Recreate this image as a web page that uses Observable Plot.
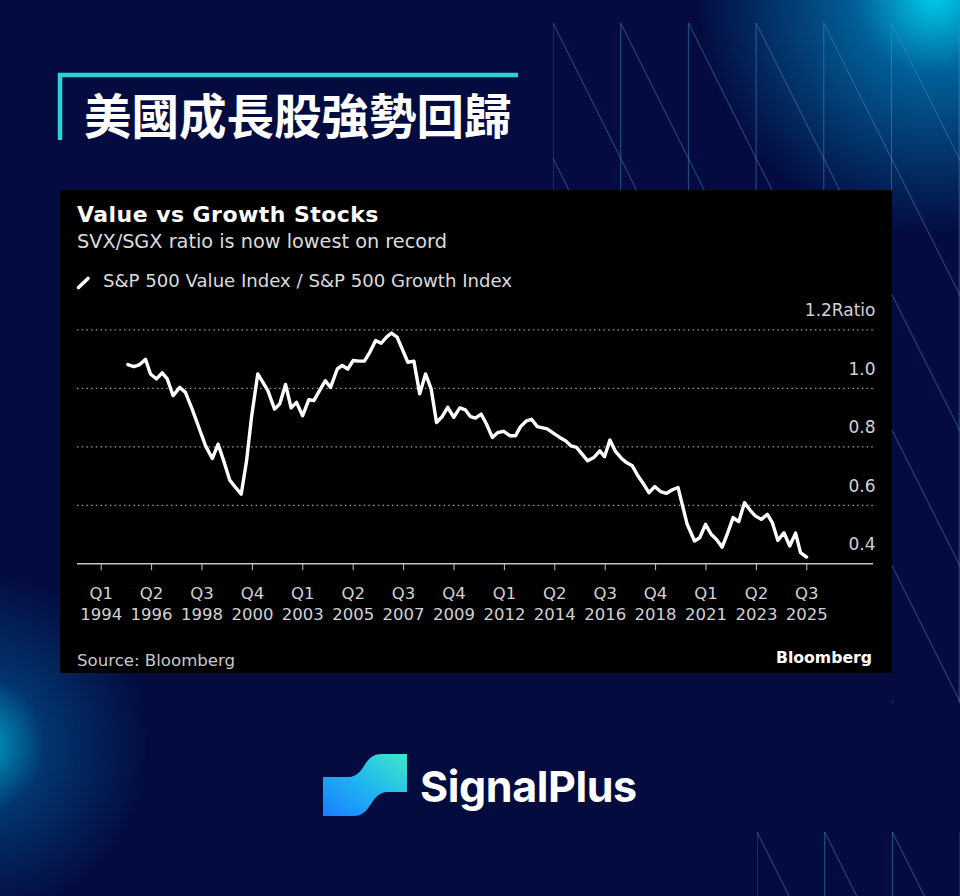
<!DOCTYPE html>
<html>
<head>
<meta charset="utf-8">
<script src="https://cdn.jsdelivr.net/npm/d3@7"></script>
<script src="https://cdn.jsdelivr.net/npm/@observablehq/plot@0.6"></script>
<style>
  html, body { margin: 0; padding: 0; }
  body { width: 960px; height: 896px; overflow: hidden; position: relative; background: #030b3f; }
  #bg { position: absolute; left: 0; top: 0; width: 960px; height: 896px;
    background:
      radial-gradient(circle at 935px -5px, rgba(0,205,235,1) 0px, rgba(0,150,210,0.6) 80px, rgba(3,11,63,0) 240px),
      radial-gradient(circle at -25px 745px, rgba(0,190,225,0.9) 0px, rgba(0,130,200,0.35) 70px, rgba(3,11,63,0) 175px),
      #030b3f; }
  #overlay, #deco { position: absolute; left: 0; top: 0; }
  #chart { position: absolute; left: 60px; top: 290px; }
</style>
</head>
<body>
<div id="bg"></div>
<svg id="deco" width="960" height="896"></svg>
<svg id="overlay" width="960" height="896"></svg>
<div id="chart"></div>
<script>
// ---- data ----
const years = [
  1995.19, 1995.46, 1995.72, 1995.98, 1996.20, 1996.47, 1996.72, 1996.95,
  1997.21, 1997.51, 1997.76, 1998.06, 1998.36, 1998.66, 1998.96, 1999.22,
  1999.47, 1999.74, 2000.00, 2000.25, 2000.49, 2000.71, 2000.99, 2001.44,
  2001.74, 2001.97, 2002.23, 2002.48, 2002.72, 2002.99, 2003.27, 2003.49,
  2003.76, 2004.01, 2004.24, 2004.54, 2004.76, 2005.01, 2005.25, 2005.50,
  2005.75, 2005.99, 2006.25, 2006.50, 2006.74, 2006.96, 2007.21, 2007.69,
  2007.96, 2008.22, 2008.48, 2008.73, 2008.97, 2009.22, 2009.47, 2009.74,
  2010.01, 2010.26, 2010.49, 2010.71, 2010.96, 2011.20, 2011.46, 2011.71,
  2011.97, 2012.24, 2012.50, 2012.72, 2012.99, 2013.21, 2013.47, 2013.91,
  2014.20, 2014.47, 2014.73, 2014.98, 2015.22, 2015.47, 2015.72, 2015.99,
  2016.26, 2016.47, 2016.71, 2016.96, 2017.22, 2017.45, 2017.71, 2017.96,
  2018.22, 2018.45, 2018.71, 2018.97, 2019.24, 2019.50, 2019.75, 2020.16,
  2020.49, 2020.72, 2020.98, 2021.23, 2021.47, 2021.72, 2021.97, 2022.21,
  2022.46, 2022.72, 2022.99, 2023.21, 2023.47, 2023.74, 2023.96, 2024.21,
  2024.48, 2024.74, 2025.00, 2025.22, 2025.49
];
const ratio = [
  1.081, 1.074, 1.081, 1.099, 1.049, 1.032, 1.053, 1.032,
  0.975, 1.003, 0.986, 0.929, 0.866, 0.803, 0.760, 0.809,
  0.752, 0.686, 0.661, 0.638, 0.752, 0.901, 1.049, 0.992,
  0.929, 0.946, 1.013, 0.933, 0.952, 0.906, 0.961, 0.958,
  0.994, 1.026, 1.003, 1.066, 1.078, 1.066, 1.095, 1.093,
  1.093, 1.123, 1.163, 1.154, 1.175, 1.189, 1.175, 1.089,
  1.093, 0.981, 1.049, 0.998, 0.883, 0.903, 0.935, 0.901,
  0.933, 0.926, 0.903, 0.898, 0.912, 0.878, 0.832, 0.849,
  0.853, 0.838, 0.838, 0.869, 0.889, 0.894, 0.869, 0.861,
  0.846, 0.832, 0.821, 0.803, 0.798, 0.775, 0.752, 0.763,
  0.786, 0.766, 0.823, 0.784, 0.761, 0.746, 0.735, 0.701,
  0.672, 0.643, 0.664, 0.647, 0.641, 0.653, 0.661, 0.535,
  0.478, 0.489, 0.535, 0.501, 0.483, 0.457, 0.506, 0.558,
  0.544, 0.609, 0.581, 0.563, 0.552, 0.569, 0.541, 0.480,
  0.506, 0.461, 0.505, 0.438, 0.423
];
const tickPositions = [1994, 1996.25, 1998.5, 2000.75, 2003, 2005.25, 2007.5, 2009.75,
  2012, 2014.25, 2016.5, 2018.75, 2021, 2023.25, 2025.5];
const tickQuarters = ["Q1","Q2","Q3","Q4","Q1","Q2","Q3","Q4","Q1","Q2","Q3","Q4","Q1","Q2","Q3"];
const tickYears = ["1994","1996","1998","2000","2003","2005","2007","2009","2012","2014","2016","2018","2021","2023","2025"];
const yTicks = [0.4, 0.6, 0.8, 1.0, 1.2];
const yUnit = "Ratio";

const pageTitle = "美國成長股強勢回歸";
const chartTitle = "Value vs Growth Stocks";
const chartSubtitle = "SVX/SGX ratio is now lowest on record";
const legendLabel = "S&P 500 Value Index / S&P 500 Growth Index";
const sourceText = "Source: Bloomberg";
const brandText = "Bloomberg";
const logoText = "SignalPlus";

const rows = years.map((t, i) => ({t, v: ratio[i]}));

// ---- decorative background lines ----
const NS = "http://www.w3.org/2000/svg";
function el(parent, name, attrs, text) {
  const e = document.createElementNS(NS, name);
  for (const k in attrs) e.setAttribute(k, attrs[k]);
  if (text != null) e.textContent = text;
  parent.appendChild(e);
  return e;
}
const deco = document.getElementById("deco");
const defs = el(deco, "defs", {});
const c1 = el(defs, "clipPath", {id: "clipA"});
el(c1, "rect", {x: 553, y: 23, width: 407, height: 168});
el(c1, "rect", {x: 892, y: 23, width: 68, height: 680});
const c2 = el(defs, "clipPath", {id: "clipB"});
el(c2, "rect", {x: 757, y: 832, width: 203, height: 64});
function pattern(clipId, x0, y0, h) {
  const g = el(deco, "g", {"clip-path": `url(#${clipId})`, stroke: "rgba(70,140,200,0.55)", "stroke-width": 1, fill: "none"});
  const step = 67.7;
  for (let k = 0; k < 8; k++) {
    const x = x0 + step * k;
    el(g, "line", {x1: x, y1: y0, x2: x, y2: y0 + h});
  }
  for (let k = -12; k < 8; k++) {
    const x = x0 + step * k;
    el(g, "line", {x1: x, y1: y0, x2: x + h / 2, y2: y0 + h});
  }
}
pattern("clipA", 553, 23, 680);
pattern("clipB", 757, 832, 200);

// ---- overlay: titles, box, legend, logo ----
const ov = document.getElementById("overlay");
const odefs = el(ov, "defs", {});
const lg = el(odefs, "linearGradient", {id: "logoGrad", x1: "0", y1: "1", x2: "1", y2: "0"});
el(lg, "stop", {offset: "0", "stop-color": "#1a7dff"});
el(lg, "stop", {offset: "0.5", "stop-color": "#1fb6f0"});
el(lg, "stop", {offset: "1", "stop-color": "#3fe8c8"});

// cyan frame
el(ov, "path", {d: "M60,140 L60,75 L518,75", stroke: "#27d3d6", "stroke-width": 4.5, fill: "none"});
el(ov, "text", {x: 84, y: 134, fill: "#ffffff", "font-family": "Noto Sans CJK TC", "font-weight": 700, "font-size": 47.5}, pageTitle);

// chart box
el(ov, "rect", {x: 60, y: 190, width: 832, height: 483, fill: "#000000"});
el(ov, "text", {x: 77, y: 222, fill: "#ffffff", "font-family": "DejaVu Sans", "font-weight": 700, "font-size": 22, "letter-spacing": 0.45}, chartTitle);
el(ov, "text", {x: 77, y: 248, fill: "#dcdcdc", "font-family": "DejaVu Sans", "font-size": 19.3}, chartSubtitle);
el(ov, "line", {x1: 78.5, y1: 287.5, x2: 88, y2: 278.5, stroke: "#ffffff", "stroke-width": 3.6, "stroke-linecap": "round"});
el(ov, "text", {x: 103, y: 287, fill: "#dcdcdc", "font-family": "DejaVu Sans", "font-size": 18.1}, legendLabel);
el(ov, "text", {x: 77, y: 666, fill: "#c8c8c8", "font-family": "DejaVu Sans", "font-size": 16.6}, sourceText);
el(ov, "text", {x: 872, y: 663, fill: "#ffffff", "font-family": "DejaVu Sans", "font-weight": 700, "font-size": 15.7, "text-anchor": "end"}, brandText);

// SignalPlus logo
el(ov, "path", {d: "M323,777 L348,777 C366,777 362,754 382,754 L407,754 L407,792 L388,792 C370,792 372,816 354,816 L323,816 Z", fill: "url(#logoGrad)"});
el(ov, "text", {x: 420, y: 802, fill: "#ffffff", "font-family": "Inter", "font-weight": 700, "font-size": 43, "letter-spacing": -0.4}, logoText);

// ---- the chart ----
const W = 832, H = 340;
const chart = Plot.plot({
  width: W,
  height: H,
  marginLeft: 17,
  marginRight: 19,
  marginTop: 39.3,
  marginBottom: 66.7,
  style: {background: "transparent", color: "#d2d2d2", fontFamily: "DejaVu Sans", overflow: "visible"},
  x: {type: "linear", domain: [1992.942, 2028.478]},
  y: {type: "linear", domain: [0.4, 1.2]},
  marks: [
    Plot.gridY([0.6, 0.8, 1.0, 1.2], {stroke: "#9c9c9c", strokeOpacity: 1, strokeWidth: 1.3, strokeDasharray: "1.5,3.2"}),
    Plot.ruleY([0.4], {stroke: "#c4c4c4", strokeWidth: 1.6}),
    Plot.axisX({
      ticks: tickPositions,
      tickSize: 7,
      tickPadding: 13.5,
      stroke: "#c4c4c4",
      fontSize: 16.5,
      lineHeight: 1.25,
      tickFormat: (d) => { const i = tickPositions.indexOf(d); return tickQuarters[i] + "\n" + tickYears[i]; },
      label: null
    }),
    Plot.axisY({
      anchor: "right",
      ticks: yTicks,
      tickSize: 0,
      tickPadding: 0,
      textAnchor: "end",
      lineAnchor: "bottom",
      dx: 2,
      dy: -13.5,
      fontSize: 17,
      tickFormat: (d) => d.toFixed(1) + (d === 1.2 ? yUnit : ""),
      label: null
    }),
    Plot.line(rows, {x: "t", y: "v", stroke: "#ffffff", strokeWidth: 3.4, strokeLinejoin: "round", strokeLinecap: "round"})
  ]
});
document.getElementById("chart").appendChild(chart);
</script>
</body>
</html>
